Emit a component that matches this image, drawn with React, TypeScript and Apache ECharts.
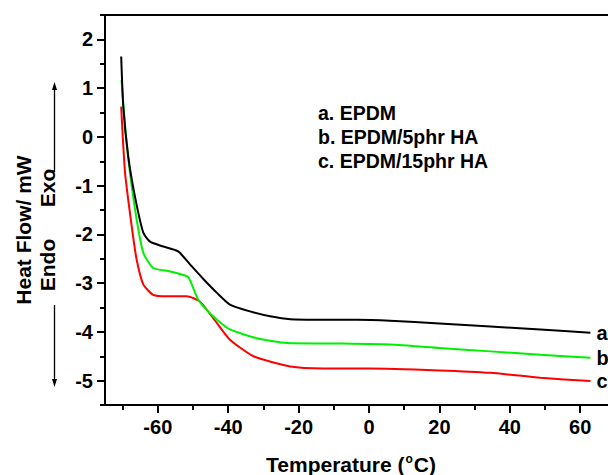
import React, { useEffect, useRef } from "react";
import * as echarts from "echarts";

const aTemp = [-70.4, -69.8, -68.4, -66.5, -64.1, -62.2, -58.4, -54.2, -50.8, -47.0, -43.2, -39.5, -33.8, -28.1, -22.4, -12.9, -3.4, 6.0, 20.0, 34.5, 48.7, 62.9];
const aHeat = [1.65, 0.62, -0.4, -1.22, -1.97, -2.15, -2.25, -2.35, -2.62, -2.92, -3.2, -3.44, -3.58, -3.68, -3.74, -3.75, -3.75, -3.77, -3.83, -3.89, -3.95, -4.02];

const bTemp = [-70.3, -69.3, -67.9, -66.0, -64.1, -61.3, -56.5, -51.6, -50.8, -48.5, -46.1, -43.2, -39.5, -31.9, -23.3, -8.2, 6.0, 20.0, 34.5, 48.7, 62.9];
const bHeat = [1.17, 0.21, -0.74, -1.7, -2.38, -2.69, -2.76, -2.86, -2.95, -3.34, -3.55, -3.75, -3.95, -4.13, -4.23, -4.24, -4.26, -4.33, -4.4, -4.47, -4.53];

const cTemp = [-70.4, -69.3, -67.4, -66.0, -64.1, -61.3, -57.5, -51.8, -48.0, -43.2, -39.5, -32.8, -22.4, -12.9, 0.0, 20.0, 34.5, 48.7, 62.9];
const cHeat = [0.62, -0.74, -1.84, -2.52, -3.03, -3.24, -3.27, -3.27, -3.38, -3.82, -4.16, -4.5, -4.71, -4.75, -4.75, -4.79, -4.84, -4.94, -5.01];

const xMajorTicks = [-60, -40, -20, 0, 20, 40, 60];
const xMinorTicks = [-70, -50, -30, -10, 10, 30, 50, 70];
const yMajorTicks = [-5, -4, -3, -2, -1, 0, 1, 2];
const yMinorTicks = [-5.5, -4.5, -3.5, -2.5, -1.5, -0.5, 0.5, 1.5, 2.5];

const legendLines = ["a. EPDM", "b. EPDM/5phr HA", "c. EPDM/15phr HA"];
const curveTags = ["a", "b", "c"];
const curveColors = ["#000000", "#00f000", "#ff0000"];

const FONT = "'Liberation Sans', Arial, sans-serif";

function zip(xs: number[], ys: number[]) {
  return xs.map((x, i) => [x, ys[i]]);
}

export default function App() {
  const ref = useRef<HTMLDivElement>(null);
  useEffect(() => {
    document.body.style.margin = "0";
    if (!ref.current) return;
    const chart = echarts.init(ref.current, null, { renderer: "svg" });
    const xBase = {
      type: "value" as const,
      min: -75,
      max: 75,
      position: "bottom" as const,
      splitLine: { show: false },
      axisLine: { show: true, onZero: false, lineStyle: { color: "#000", width: 2 } },
    };
    const yBase = {
      type: "value" as const,
      min: -5.5,
      max: 2.5,
      position: "left" as const,
      splitLine: { show: false },
      axisLine: { show: true, onZero: false, lineStyle: { color: "#000", width: 2 } },
    };
    const series = [
      { t: aTemp, h: aHeat },
      { t: bTemp, h: bHeat },
      { t: cTemp, h: cHeat },
    ].map((s, i) => ({
      type: "line" as const,
      xAxisIndex: 0,
      yAxisIndex: 0,
      data: zip(s.t, s.h),
      showSymbol: false,
      smooth: 0.2,
      lineStyle: { color: curveColors[i], width: 2 },
      z: 3 - i,
      endLabel: {
        show: true,
        formatter: curveTags[i],
        distance: 6,
        color: "#000",
        fontFamily: FONT,
        fontWeight: "bold",
        fontSize: 20,
      },
    }));
    chart.setOption({
      animation: false,
      backgroundColor: "#fff",
      grid: {
        left: 105,
        top: 15,
        right: 0,
        bottom: 70,
        show: true,
        borderColor: "#000",
        borderWidth: 2,
      },
      xAxis: [
        {
          ...xBase,
          axisTick: { show: true, customValues: xMajorTicks, length: 8, lineStyle: { color: "#000", width: 2 } },
          axisLabel: {
            show: true,
            customValues: xMajorTicks,
            margin: 12,
            color: "#000",
            fontFamily: FONT,
            fontWeight: "bold",
            fontSize: 20,
          },
        },
        {
          ...xBase,
          axisTick: { show: true, customValues: xMinorTicks, length: 5, lineStyle: { color: "#000", width: 2 } },
          axisLabel: { show: false },
        },
      ],
      yAxis: [
        {
          ...yBase,
          axisTick: { show: true, customValues: yMajorTicks, length: 8, lineStyle: { color: "#000", width: 2 } },
          axisLabel: {
            show: true,
            customValues: yMajorTicks,
            margin: 12,
            color: "#000",
            fontFamily: FONT,
            fontWeight: "bold",
            fontSize: 20,
          },
        },
        {
          ...yBase,
          axisTick: { show: true, customValues: yMinorTicks, length: 5, lineStyle: { color: "#000", width: 2 } },
          axisLabel: { show: false },
        },
      ],
      series,
      graphic: [
        ...legendLines.map((t, i) => ({
          type: "text",
          left: 318,
          top: 103 + i * 24,
          style: { text: t, fill: "#000", font: `bold 19.5px ${FONT}` },
        })),
        {
          type: "text",
          x: 351,
          y: 464,
          style: {
            text: "{n|Temperature (}{s|o}{n|C)}",
            align: "center",
            verticalAlign: "middle",
            rich: {
              n: { fontFamily: FONT, fontWeight: "bold", fontSize: 21, fill: "#000", color: "#000" },
              s: { fontFamily: FONT, fontWeight: "bold", fontSize: 12, verticalAlign: "top", color: "#000", padding: [0, 1, 10, 1] },
            },
          },
        },
        {
          type: "text",
          x: 23,
          y: 230,
          rotation: Math.PI / 2,
          style: { text: "Heat Flow/ mW", align: "center", verticalAlign: "middle", fill: "#000", font: `bold 21px ${FONT}` },
        },
        {
          type: "text",
          x: 47,
          y: 188,
          rotation: Math.PI / 2,
          style: { text: "Exo", align: "center", verticalAlign: "middle", fill: "#000", font: `bold 21px ${FONT}` },
        },
        {
          type: "text",
          x: 47,
          y: 265,
          rotation: Math.PI / 2,
          style: { text: "Endo", align: "center", verticalAlign: "middle", fill: "#000", font: `bold 21px ${FONT}` },
        },
        { type: "line", shape: { x1: 54.5, y1: 172, x2: 54.5, y2: 88 }, style: { stroke: "#000", lineWidth: 1.3 } },
        { type: "line", shape: { x1: 50, y1: 171, x2: 55, y2: 171 }, style: { stroke: "#000", lineWidth: 1.3 } },
        { type: "polygon", shape: { points: [[54.5, 82], [52, 90], [57, 90]] }, style: { fill: "#000" } },
        { type: "line", shape: { x1: 54.5, y1: 305, x2: 54.5, y2: 381 }, style: { stroke: "#000", lineWidth: 1.3 } },
        { type: "polygon", shape: { points: [[54.5, 387], [52, 379], [57, 379]] }, style: { fill: "#000" } },
      ],
    });
    return () => chart.dispose();
  }, []);
  return (
    <div style={{ width: 608, height: 475, overflow: "hidden", position: "relative" }}>
      <div ref={ref} style={{ width: 633, height: 475 }} />
    </div>
  );
}
